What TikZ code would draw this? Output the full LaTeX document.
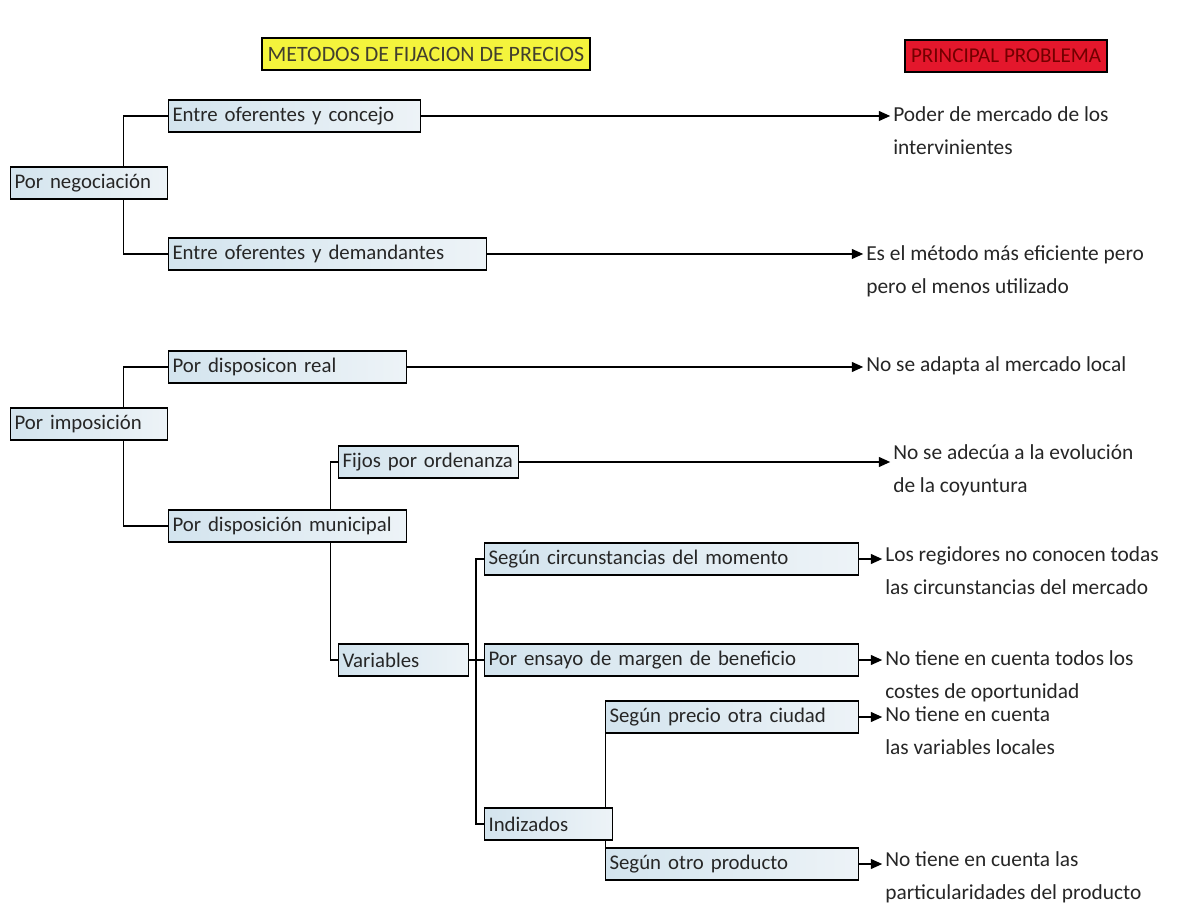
\documentclass[tikz,border=0pt]{standalone}
\usepackage{fontspec}
\setmainfont{Carlito}
\usepackage{tikz}
\usetikzlibrary{positioning,arrows.meta}

\definecolor{boxleft}{HTML}{D3E4EE}
\definecolor{boxright}{HTML}{EDF3F7}
\definecolor{titleyellow}{HTML}{F4F43C}
\definecolor{titlered}{HTML}{E4172C}
\definecolor{inkgray}{HTML}{262626}

\begin{document}
\begin{tikzpicture}[x=0.025cm,y=-0.025cm,
    every node/.style={font=\fontsize{14.8}{17}\selectfont,text=inkgray},
    item/.style={draw=black,line width=0.8pt,left color=boxleft,right color=boxright,
      anchor=west,minimum height=0.8cm,inner xsep=0.1cm,inner ysep=0pt,
      text width=#1,align=left},
    note/.style={anchor=north west,align=left,inner sep=0pt,
      font=\fontsize{15.2}{23.5}\selectfont},
    heading/.style={draw=black,line width=0.8pt,minimum height=0.8cm,inner sep=0pt},
    link/.style={line width=0.9pt},
    tip/.style={line width=0.9pt,-{Triangle[length=8pt,width=7pt]}}]
    \useasboundingbox (0,0) rectangle (1178,911);
    % headings
    \node[heading,fill=titleyellow,minimum width=8.2cm,text=black!70!olive,
      font=\fontsize{15.6}{17}\selectfont] (title) at (426,54)
      {METODOS DE FIJACION DE PRECIOS};
    \node[heading,fill=titlered,minimum width=5.05cm,text=red!45!black,
      font=\fontsize{15}{17}\selectfont] (problem) at (1006,56)
      {PRINCIPAL PROBLEMA};
    % methods
    \node[item=3.725cm] (neg) at (10,183) {Por negociación};
    \node[item=6.1cm] (conc) at (168,116) {Entre oferentes y concejo};
    \node[item=7.75cm] (dem) at (168,254) {Entre oferentes y demandantes};
    \node[item=3.725cm] (impo) at (10,424) {Por imposición};
    \node[item=5.75cm] (real) at (168,367) {Por disposicon real};
    \node[item=5.75cm] (muni) at (168,526) {Por disposición municipal};
    \node[item=4.3cm] (fijos) at (338,462) {Fijos por ordenanza};
    \node[item=3.05cm] (vari) at (338,660) {Variables};
    \node[item=9.15cm] (circ) at (484,559) {Según circunstancias del momento};
    \node[item=9.15cm] (ensayo) at (484,660) {Por ensayo de margen de beneficio};
    \node[item=3cm] (indiz) at (484,824) {Indizados};
    \node[item=6.125cm] (ciudad) at (605,717) {Según precio otra ciudad};
    \node[item=6.125cm] (prod) at (605,864) {Según otro producto};
    % problems
    \node[note] (poder) at (893,106) {Poder de mercado de los\\intervinientes};
    \node[note] (efic) at (866,245) {Es el método más eficiente pero\\pero el menos utilizado};
    \node[note] (adapta) at (866,356) {No se adapta al mercado local};
    \node[note] (evol) at (893,444) {No se adecúa a la evolución\\de la coyuntura};
    \node[note] (regid) at (885,546) {Los regidores no conocen todas\\las circunstancias del mercado};
    \node[note] (oport) at (885,650) {No tiene en cuenta todos los\\costes de oportunidad};
    \node[note] (locales) at (885,706) {No tiene en cuenta\\las variables locales};
    \node[note] (partic) at (885,851) {No tiene en cuenta las\\particularidades del producto};
    % tree
    \draw[link] (conc.west) -| ([xshift=0.86cm]neg.north);
    \draw[link] (dem.west) -| ([xshift=0.86cm]neg.south);
    \draw[link] (real.west) -| ([xshift=0.86cm]impo.north);
    \draw[link] (muni.west) -| ([xshift=0.86cm]impo.south);
    \draw[link] (fijos.west) -| ([xshift=1.075cm]muni.north);
    \draw[link] (vari.west) -| ([xshift=1.075cm]muni.south);
    \draw[link] (vari.east) -- (ensayo.west);
    \draw[link] (circ.west) -| ([xshift=-0.2cm]indiz.west) -- (indiz.west);
    \draw[link] (ciudad.west) -| ([xshift=-0.2cm]indiz.north east);
    \draw[link] (prod.west) -| ([xshift=-0.2cm]indiz.south east);
    % arrows
    \draw[tip] (conc.east) -- ([xshift=-2pt]conc.east -| poder.west);
    \draw[tip] (dem.east) -- ([xshift=-2pt]dem.east -| efic.west);
    \draw[tip] (real.east) -- ([xshift=-2pt]real.east -| adapta.west);
    \draw[tip] (fijos.east) -- ([xshift=-2pt]fijos.east -| evol.west);
    \draw[tip] (circ.east) -- ([xshift=-2pt]circ.east -| regid.west);
    \draw[tip] (ensayo.east) -- ([xshift=-2pt]ensayo.east -| oport.west);
    \draw[tip] (ciudad.east) -- ([xshift=-2pt]ciudad.east -| locales.west);
    \draw[tip] (prod.east) -- ([xshift=-2pt]prod.east -| partic.west);
\end{tikzpicture}
\end{document}
